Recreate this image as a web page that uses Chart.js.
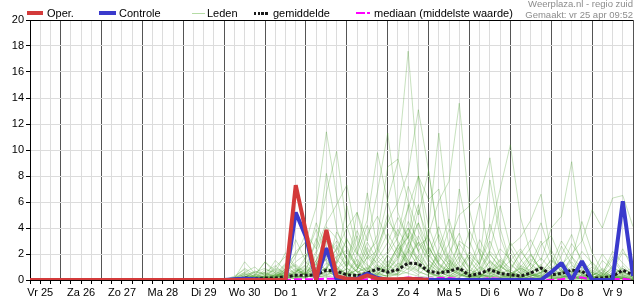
<!DOCTYPE html>
<html>
<head>
<meta charset="utf-8">
<title>Neerslag pluim</title>
<script src="https://cdn.jsdelivr.net/npm/chart.js"></script>
<style>
  body { margin: 0; background: #fff; font-family: "Liberation Sans", Arial, sans-serif; }
  #wrap { position: relative; width: 635px; height: 300px; overflow: hidden; }
  #chart { position: absolute; left: 0; top: 0; }
  .lg { position: absolute; top: 7px; font-size: 11px; line-height: 13px; color: #000; white-space: nowrap; }
  .sw { position: absolute; }
  .credit { position: absolute; right: 2px; font-size: 9.5px; line-height: 11px; color: #8c8c8c; white-space: nowrap; }
</style>
</head>
<body>
<div id="wrap">
  <canvas id="chart" width="635" height="300"></canvas>

  <div class="sw" style="left:27px;top:11px;width:16px;height:4px;background:#d33a3a"></div>
  <div class="lg" style="left:47px">Oper.</div>
  <div class="sw" style="left:99px;top:11px;width:17px;height:4px;background:#3a3acc"></div>
  <div class="lg" style="left:119px">Controle</div>
  <div class="sw" style="left:192px;top:13px;width:13px;height:1px;background:#b5dca5"></div>
  <div class="lg" style="left:207px">Leden</div>
  <div class="sw" style="left:254px;top:12px;width:14px;height:3px;background:repeating-linear-gradient(to right,#1a1a1a 0 2.5px,transparent 2.5px 3.7px)"></div>
  <div class="lg" style="left:273px">gemiddelde</div>
  <div class="sw" style="left:356px;top:12px;width:14px;height:2px;background:linear-gradient(to right,#ff00ff 0 9px,transparent 9px 11px,#ff00ff 11px 14px)"></div>
  <div class="lg" style="left:374px">mediaan (middelste waarde)</div>

  <div class="credit" style="top:-2px">Weerplaza.nl - regio zuid</div>
  <div class="credit" style="top:9px">Gemaakt: vr 25 apr 09:52</div>
</div>

<script>
    // dagen (label op 12:00 van elke dag), uren vanaf vr 25 00:00
    const dagLabels = ['Vr 25', 'Za 26', 'Zo 27', 'Ma 28', 'Di 29', 'Wo 30', 'Do 1', 'Vr 2',
                       'Za 3', 'Zo 4', 'Ma 5', 'Di 6', 'Wo 7', 'Do 8', 'Vr 9'];

    // 6-uurlijkse neerslag (mm), vanaf uur 6
    const oper = [0, 0, 0, 0, 0, 0, 0, 0, 0, 0, 0, 0, 0, 0, 0, 0, 0, 0, 0, 0,
                  0, 0, 0, 0, 0, 0, 7.3, 3.7, 0, 3.85, 0.3, 0.1, 0.05, 0.35, 0.1, 0.05,
                  0.05, 0.1, 0.05, 0];

    const controle = [0, 0, 0, 0, 0, 0, 0, 0, 0, 0, 0, 0, 0, 0, 0, 0, 0, 0, 0, 0,
                      0.05, 0.1, 0.05, 0, 0, 0, 5.2, 3.3, 0, 2.45, 0.05, 0, 0.1, 0.5, 0.15, 0,
                      0, 0.05, 0.05, 0, 0, 0, 0, 0, 0, 0, 0, 0, 0, 0, 0,
                      0.6, 1.3, 0, 1.45, 0, 0, 0, 6.05, 0.3];

    const gemiddelde = [0, 0, 0, 0, 0, 0, 0, 0, 0, 0, 0, 0, 0, 0, 0, 0, 0, 0, 0, 0,
                        0.05, 0.15, 0.1, 0.15, 0.15, 0.25, 0.36, 0.36, 0.4, 0.75, 0.67, 0.4,
                        0.33, 0.54, 0.85, 0.6, 0.8, 1.3, 1.25, 0.67, 0.54, 0.67, 0.92, 0.33,
                        0.5, 0.8, 0.5, 0.4, 0.3, 0.54, 0.92, 0.4, 0.5, 0.75, 0.67, 0.15,
                        0.15, 0.28, 0.75, 0.4];

    const mediaan = [0, 0, 0, 0, 0, 0, 0, 0, 0, 0, 0, 0, 0, 0, 0, 0, 0, 0, 0, 0,
                     0, 0, 0, 0, 0, 0, 0.05, 0.05, 0.05, 0.1, 0.1, 0.05, 0, 0.05, 0.1, 0.05,
                     0.1, 0.2, 0.15, 0.1, 0.15, 0.15, 0.1, 0, 0.05, 0.15, 0.1, 0, 0, 0.1,
                     0.05, 0, 0.05, 0.2, 0.2, 0, 0, 0.05, 0.1, 0];

    // ensemble leden, vanaf uur 120 (wo 30 00:00)
    const lid01 = [0,0,0.2,0, 0,0.3,0.8,1.2, 0.5,1.5,3.2,1.0, 0.4,0.8,2.1,3.0, 6.2,9.1,17.6,8.0, 2.5,1.2,0.6,1.8, 0.4,0.2,1.5,0.8, 0.3,0.1,0.6,1.2, 0.2,0.5,1.8,0.4, 0,0.1,0.8,0.3, 0];
    const lid02 = [0,0.1,1.4,0.5, 0.2,0.4,0.1,0.6, 1.8,3.9,2.0,0.8, 1.5,0.6,0.4,2.2, 4.5,6.0,8.3,13.1, 8.4,3.2,1.0,0.5, 0.2,1.4,3.0,1.1, 0.5,0.2,0.1,0.6, 1.0,0.3,0.2,0.1, 0.4,0.6,0.2,1.1, 0.3];
    const lid03 = [0,0,0.1,0.3, 1.4,0.5,0.2,0.1, 0.6,1.2,0.8,2.5, 0.9,0.3,1.8,0.7, 1.1,2.6,4.0,2.2, 3.5,6.1,7.6,13.6, 5.4,2.0,0.6,0.2, 0.1,0.5,1.6,0.9, 0.3,0.1,0,0.2, 0.8,0.2,0.1,0.3, 0];
    const lid04 = [0,0.2,0.6,1.0, 0.3,1.5,0.7,0.2, 0.1,0.8,2.4,1.3, 3.2,1.4,0.6,0.3, 2.0,3.3,5.5,8.0, 4.1,11.3,4.2,1.5, 0.6,0.3,0.2,0.9, 2.1,0.8,0.4,0.1, 0,0.3,1.1,0.6, 0.2,0,0.1,0.5, 1.0];
    const lid05 = [0,0,0.3,0.1, 0,0.2,1.1,2.0, 3.0,5.6,11.4,6.5, 2.6,1.0,0.5,0.2, 0.8,1.6,3.4,1.2, 0.6,0.2,1.1,2.8, 1.6,0.5,0.2,0.1, 0.3,1.0,2.0,0.7, 0.2,0.1,0.4,1.3, 0.5,0.2,0,0.1, 0];
    const lid06 = [0,0.1,0.2,0.6, 0.9,0.4,0.3,0.6, 1.2,2.8,6.7,9.9, 4.1,2.0,1.1,0.6, 0.2,0.5,2.8,4.4, 1.6,0.7,0.3,0.2, 0.9,2.4,1.3,0.4, 0.1,0,0.3,0.5, 1.6,0.8,0.3,0.2, 0.1,0.6,1.8,0.7, 0.2];
    const lid07 = [0,0,0,0.2, 0.6,1.1,0.4,0.2, 0.5,0.9,1.6,2.3, 4.0,5.2,3.0,6.8, 11.3,5.2,3.1,1.6, 0.8,2.1,1.2,0.5, 0.2,0.1,0.4,1.5, 0.6,0.2,0.1,0.4, 0.1,0,0.2,0.6, 1.4,0.5,0.2,0.1, 0];
    const lid08 = [0,0.3,0.8,0.2, 0.1,0.2,0.6,1.4, 2.0,1.1,3.5,2.1, 1.0,2.6,4.6,9.8, 6.0,3.0,1.4,2.9, 1.3,0.6,0.3,0.8, 0.3,0.7,2.2,1.4, 0.6,0.3,0.1,0.2, 0.5,1.2,0.6,0.2, 0.1,0,0.4,0.2, 0.1];
    const lid09 = [0,0,0.1,0.4, 0.2,0.1,0.9,3.1, 1.4,0.6,0.9,1.8, 2.3,0.9,1.7,3.5, 8.7,9.3,6.0,3.8, 2.0,4.1,1.6,0.9, 0.4,0.2,0.9,0.6, 0.2,0.4,1.3,3.0, 1.1,0.4,0.2,0.1, 0,0.3,0.9,2.4, 0.8];
    const lid10 = [0,0,0.5,0.1, 0.3,0.6,2.1,1.0, 0.3,0.2,0.6,1.1, 0.4,1.9,6.7,2.4, 1.2,0.6,2.0,5.4, 3.2,1.4,2.8,5.0, 5.7,6.5,9.4,4.0, 1.3,0.5,0.2,0.1, 0.4,0.2,0.6,1.0, 0.3,0.1,0,0.2, 0];
    const lid11 = [0,0,0,0.1, 0.2,0.5,0.3,0.7, 0.4,1.3,2.2,0.9, 0.5,0.3,0.8,2.0, 3.6,2.1,1.3,0.7, 2.6,1.1,0.5,0.9, 2.0,1.2,3.6,7.0, 10.4,4.8,2.0,0.8, 0.3,0.6,1.4,0.5, 0.2,0.1,0.3,0.6, 0.2];
    const lid12 = [0,0.1,0.2,0, 0.1,0.2,0.4,0.2, 0.6,0.3,1.0,0.5, 0.2,0.1,0.5,1.2, 0.6,1.8,3.6,2.3, 1.0,0.5,0.9,2.1, 0.8,0.3,0.7,1.6, 0.9,2.0,3.1,1.5, 4.0,4.9,9.1,3.2, 1.1,0.4,0.2,0.1, 0];
    const lid13 = [0,0,0.1,0.2, 0,0.1,0.3,0.8, 0.4,1.0,0.7,0.3, 0.9,0.4,0.2,0.6, 1.5,0.9,2.4,1.6, 0.7,1.9,0.8,0.4, 0.2,0.6,1.4,0.7, 0.3,0.9,0.5,0.2, 0.6,1.2,2.0,3.0, 5.4,4.0,6.3,6.5, 4.1];
    const lid14 = [0,0.2,0.4,0.2, 0.5,0.3,1.2,0.4, 0.2,0.5,1.8,3.0, 1.6,0.7,0.3,1.1, 0.4,1.2,5.8,2.1, 0.9,0.4,1.3,0.6, 0.3,1.0,0.5,0.8, 2.6,3.3,4.6,6.6, 2.0,0.5,0.3,0.8, 0.2,0.1,0.4,0.9, 0.3];
    const lid15 = [0,0,0.2,0.7, 0.4,0.8,0.5,1.8, 3.6,2.4,4.4,5.8, 7.3,3.0,1.2,0.5, 0.3,0.9,2.2,1.1, 0.5,0.3,0.2,0.6, 1.8,0.9,0.4,0.2, 0.1,0.2,0.6,0.3, 0.9,0.4,0.1,0, 0.2,0.5,0.3,0.1, 0];
    const lid16 = [0,0,0.1,0.1, 0.2,0.1,0.2,0.5, 0.8,0.4,1.3,0.7, 2.1,1.0,0.6,2.6, 4.6,3.4,7.2,5.0, 8.4,2.9,1.4,0.7, 0.3,0.2,0.5,1.2, 0.5,0.2,0.9,1.7, 0.8,0.3,0.1,0.4, 1.0,0.3,0.2,0.1, 0];
    const lid17 = [0,0.1,0.6,0.3, 0.1,0.4,0.2,0.3, 0.9,2.2,8.2,4.0, 1.4,0.6,0.9,0.4, 1.3,2.5,1.0,0.6, 0.4,1.6,3.9,2.2, 1.0,0.4,0.2,0.5, 0.8,0.3,0.2,0.9, 0.4,1.9,3.5,1.2, 0.5,0.2,1.1,0.4, 0.1];
    const lid18 = [0,0,0.3,0.2, 0.8,0.6,0.4,0.9, 0.3,0.7,0.5,1.4, 5.7,2.2,0.8,1.6, 2.9,4.8,3.2,8.0, 6.2,7.0,2.6,1.1, 0.5,0.3,0.9,0.4, 0.2,0.7,0.4,0.3, 0.1,0.2,0.5,0.7, 0.3,0.9,0.4,0.2, 0];
    const lid19 = [0,0,0,0, 0.1,0.3,0.5,0.2, 0.5,0.3,0.2,0.6, 0.8,5.2,2.0,0.9, 0.6,0.4,1.7,2.9, 1.5,0.8,0.5,3.0, 2.4,5.9,2.0,1.0, 0.6,0.3,0.4,0.2, 0.5,1.1,0.6,2.2, 1.3,0.4,0.2,0.6, 0.2];
    const lid20 = [0,0.2,0.9,0.4, 1.4,0.7,0.3,0.1, 0.2,0.6,0.4,0.9, 0.3,0.8,2.9,1.5, 0.7,2.0,4.5,3.0, 1.9,0.9,0.4,0.2, 0.6,1.6,7.7,3.3, 1.2,0.5,0.3,0.6, 1.5,0.7,0.3,0.1, 0,0.2,0.5,0.9, 0.4];
    const lid21 = [0,0,0.1,0.3, 0.2,0.1,0.7,1.1, 0.4,0.2,0.3,0.8, 0.5,0.3,0.6,0.4, 1.1,0.6,2.3,4.4, 2.5,1.3,0.7,7.0, 3.0,1.1,0.5,0.3, 0.2,1.4,2.5,4.4, 1.8,0.6,0.2,0.1, 0.3,0.8,0.2,0.1, 0];
    const lid22 = [0,0.1,0.2,0.1, 0.3,0.2,0.1,0.4, 0.6,1.5,3.0,1.6, 0.7,0.4,0.2,0.9, 0.5,1.3,0.8,1.9, 0.6,0.3,1.5,0.8, 0.4,0.9,2.3,5.7, 2.5,1.0,0.4,0.2, 0.3,0.6,1.6,4.5, 2.1,0.7,0.3,0.1, 0];
    const lid23 = [0,0,0.4,0.6, 0.5,0.2,0.3,0.6, 1.1,0.5,0.9,0.4, 0.2,1.2,0.7,0.3, 0.9,2.7,1.5,0.8, 4.1,1.9,0.8,0.5, 0.2,0.4,0.3,0.7, 1.5,2.4,1.0,0.4, 0.2,0.1,0.8,0.3, 0.1,0.4,1.6,0.5, 0.2];
    const lid24 = [0,0,0,0.2, 0.1,0.2,0.4,0.2, 0.3,0.9,1.6,0.5, 0.4,1.6,0.6,0.8, 1.9,1.0,2.9,1.3, 0.5,0.7,1.9,0.9, 0.3,0.2,0.6,1.1, 0.4,0.2,1.3,0.5, 0.2,0.8,0.4,0.2, 0.3,0.1,0.2,0.4, 0.1];
    const lid25 = [0,0.1,0.3,0.1, 0.2,0.9,0.6,0.3, 0.2,0.4,0.7,0.3, 1.3,0.6,1.0,0.4, 0.3,0.5,1.1,0.7, 0.3,0.2,0.6,0.3, 0.8,0.4,0.3,0.2, 0.5,0.9,0.6,1.0, 0.4,0.2,0.1,0.3, 0.6,0.3,0.1,0.2, 0];
    const lid26 = [0,0,0.1,0, 0,0.1,0.2,0.1, 0.3,0.2,0.4,0.7, 0.3,0.2,0.1,0.5, 0.9,0.4,0.6,1.2, 0.5,0.3,0.2,0.4, 0.1,0.3,0.8,0.4, 0.2,0.1,0.3,0.6, 0.2,0.4,0.9,0.5, 0.1,0,0.2,0.3, 0.1];
    const lid27 = [0,0,0.2,0.4, 0.6,0.3,0.2,0.5, 0.7,3.2,1.4,0.6, 0.4,0.8,2.5,1.1, 0.5,0.3,0.9,0.4, 1.2,0.6,0.3,0.8, 0.4,0.2,1.0,0.6, 0.3,0.6,0.2,0.1, 0.7,0.3,0.2,0.1, 0,0.1,0.3,0.2, 0];
    const lid28 = [0,0,0,0.1, 0.2,0.1,0.1,0.3, 0.2,0.6,0.3,0.2, 0.6,0.4,0.3,0.2, 0.4,0.8,0.5,0.3, 0.2,0.5,0.9,0.4, 0.2,0.1,0.3,0.2, 0.4,0.2,0.5,0.3, 0.1,0.2,0.3,0.1, 0.2,0.3,0.1,0, 0];
    const lid29 = [0,0,0.1,0.2, 0.3,1.0,1.8,0.9, 0.4,2.0,4.1,3.2, 1.5,3.8,2.0,1.3, 2.2,3.9,2.4,1.0, 0.6,2.3,4.7,2.0, 0.9,3.1,1.5,0.6, 0.3,1.1,0.7,2.7, 3.4,1.5,0.6,0.3, 0.1,0.4,2.2,1.3, 0.5];
    const lid30 = [0,0.1,0.5,0.2, 0.1,0.3,0.6,2.2, 2.9,1.3,0.8,3.7, 2.4,1.1,3.5,4.9, 3.0,1.7,4.0,2.6, 3.3,1.2,0.6,1.4, 3.8,2.1,0.9,2.4, 1.6,0.7,1.9,0.8, 0.5,2.6,1.2,0.4, 0.2,1.5,0.8,2.1, 1.4];
    const lid31 = [0,0,0.2,0.1, 0.4,0.2,0.9,0.5, 1.6,4.4,2.5,1.2, 3.1,2.0,4.2,1.8, 1.0,2.3,3.3,5.8, 2.1,0.8,2.1,3.6, 1.4,0.6,2.0,0.9, 2.9,1.6,0.5,1.1, 2.3,0.9,2.8,1.6, 0.6,0.3,1.0,0.4, 0.2];
    const lid32 = [0,0,0,0.3, 0.2,0.4,1.3,0.7, 0.9,0.5,1.9,2.7, 1.1,3.4,1.6,2.3, 5.1,2.8,1.2,3.4, 1.7,3.5,1.5,0.7, 2.2,1.2,4.3,1.8, 0.7,2.2,1.2,0.5, 1.2,3.0,1.8,0.9, 0.4,2.0,0.9,0.6, 0.3];

    const leden = [lid01, lid02, lid03, lid04, lid05, lid06, lid07, lid08, lid09, lid10, lid11,
                   lid12, lid13, lid14, lid15, lid16, lid17, lid18, lid19, lid20, lid21, lid22,
                   lid23, lid24, lid25, lid26, lid27, lid28, lid29, lid30, lid31, lid32];

    function punten(startUur, waarden) {
        return waarden.map((v, i) => ({ x: startUur + i * 6, y: v }));
    }

    const datasets = [
        { label: 'Oper.', data: punten(6, oper), borderColor: '#d33a3a', borderWidth: 4, borderJoinStyle: 'bevel', order: 0 },
        { label: 'Controle', data: punten(6, controle), borderColor: '#3a3acc', borderWidth: 4, borderJoinStyle: 'bevel', order: 1 },
        { label: 'gemiddelde', data: punten(6, gemiddelde), borderColor: '#1a1a1a', borderWidth: 3, borderDash: [3, 2], order: 2 },
        { label: 'mediaan (middelste waarde)', data: punten(6, mediaan), borderColor: '#ff00ff', borderWidth: 2, borderDash: [8, 3], order: 3 }
    ];
    leden.forEach((lid, i) => {
        datasets.push({ label: 'Leden ' + (i + 1), data: punten(120, lid),
                        borderColor: 'rgba(70,155,40,0.3)', borderWidth: 1, order: 4 });
    });

    Chart.defaults.font.family = '"Liberation Sans", Arial, sans-serif';
    Chart.defaults.font.size = 11;
    Chart.defaults.color = '#000';

    const ctx = document.getElementById('chart').getContext('2d');
    const chart = new Chart(ctx, {
        type: 'line',
        data: { datasets: datasets },
        options: {
            responsive: false,
            animation: false,
            devicePixelRatio: 1,
            layout: { padding: { top: 20, right: 1, left: 0, bottom: 0 } },
            elements: {
                point: { radius: 0 },
                line: { tension: 0, fill: false }
            },
            plugins: {
                legend: { display: false },
                tooltip: { enabled: false }
            },
            scales: {
                x: {
                    type: 'linear',
                    min: 6,
                    max: 360,
                    afterBuildTicks: scale => {
                        scale.ticks = [];
                        for (let h = 6; h <= 360; h += 6) scale.ticks.push({ value: h });
                    },
                    afterFit: scale => { scale.height = 20; },
                    ticks: {
                        autoSkip: false,
                        maxRotation: 0,
                        minRotation: 0,
                        padding: 2,
                        callback: v => ((v - 12) % 24 === 0 ? dagLabels[(v - 12) / 24] : '')
                    },
                    grid: {
                        color: c => (c.tick && c.tick.value % 24 === 0 ? '#555' : '#dcdcdc'),
                        tickColor: '#000',
                        tickLength: 4
                    },
                    border: { color: '#000' }
                },
                y: {
                    min: 0,
                    max: 20,
                    afterFit: scale => { scale.width = 30; },
                    ticks: { stepSize: 2, padding: 2 },
                    grid: {
                        color: c => (c.tick && c.tick.value === 20 ? '#000' : '#dcdcdc'),
                        tickColor: '#000',
                        tickLength: 4
                    },
                    border: { color: '#000' }
                }
            }
        }
    });
</script>
</body>
</html>
